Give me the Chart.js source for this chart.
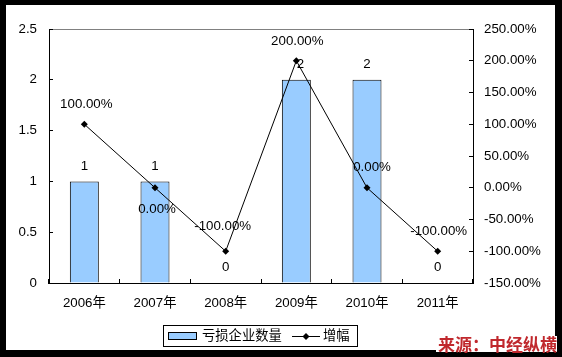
<!DOCTYPE html>
<html><head><meta charset="utf-8">
<script src="https://cdn.jsdelivr.net/npm/chart.js@4/dist/chart.umd.min.js"></script>
<style>html,body{margin:0;padding:0;background:#000;}canvas{display:block;}</style>
</head><body>
<canvas id="c" width="562" height="357"></canvas>
<script>
const categories = ['2006年','2007年','2008年','2009年','2010年','2011年'];
const lossCompanies = [1, 1, 0, 2, 2, 0];
const growthPct = [100, 0, -100, 200, 0, -100];
const seriesNames = ['亏损企业数量', '增幅'];
const leftTicks = [0, 0.5, 1, 1.5, 2, 2.5];
const rightTicks = [-150, -100, -50, 0, 50, 100, 150, 200, 250];
const sourceText = '来源：中经纵横';

const FAMILY = "'Liberation Sans', Arial, 'Noto Sans CJK SC', sans-serif";
const FONT_PX = 13.3;
const FONT = FONT_PX + 'px ' + FAMILY;

const framePlugin = {
  id: 'frame',
  beforeDraw(chart) {
    const ctx = chart.ctx;
    ctx.save();
    ctx.fillStyle = '#000';
    ctx.fillRect(0, 0, chart.width, chart.height);
    ctx.fillStyle = '#fff';
    ctx.fillRect(6, 5, 549, 345);
    const a = chart.chartArea;
    ctx.strokeStyle = '#808080';
    ctx.lineWidth = 1;
    ctx.beginPath();
    ctx.moveTo(a.left, Math.round(a.top) + 0.5);
    ctx.lineTo(a.right, Math.round(a.top) + 0.5);
    ctx.stroke();
    ctx.restore();
  },
  afterDraw(chart) {
    const ctx = chart.ctx;
    ctx.save();
    // legend
    ctx.strokeStyle = '#000';
    ctx.lineWidth = 1;
    ctx.fillStyle = '#fff';
    ctx.fillRect(163.5, 325.5, 194, 21);
    ctx.strokeRect(163.5, 325.5, 194, 21);
    const ds0 = chart.data.datasets[0], ds1 = chart.data.datasets[1];
    ctx.fillStyle = ds0.backgroundColor;
    ctx.fillRect(168.5, 332.5, 28, 7);
    ctx.strokeRect(168.5, 332.5, 28, 7);
    ctx.fillStyle = '#000';
    ctx.font = FONT;
    ctx.textAlign = 'left';
    ctx.textBaseline = 'middle';
    ctx.fillText(ds0.label, 202, 336.5);
    ctx.beginPath();
    ctx.moveTo(292, 336.5);
    ctx.lineTo(320, 336.5);
    ctx.stroke();
    ctx.beginPath();
    ctx.moveTo(306, 333); ctx.lineTo(309.5, 336.5); ctx.lineTo(306, 340); ctx.lineTo(302.5, 336.5); ctx.closePath();
    ctx.fill();
    ctx.fillText(ds1.label, 323, 336.5);
    // source watermark
    ctx.fillStyle = '#fff';
    ctx.fillRect(436, 336, 121, 16);
    ctx.font = 'bold 17px "Noto Sans CJK SC", sans-serif';
    ctx.fillStyle = '#c0282d';
    ctx.textBaseline = 'middle';
    ctx.fillText(sourceText, 438, 345);
    ctx.restore();
  }
};

const labelPlugin = {
  id: 'vlabels',
  afterDatasetsDraw(chart, args, opts) {
    const ctx = chart.ctx;
    ctx.save();
    ctx.font = FONT;
    ctx.fillStyle = '#000';
    ctx.textAlign = 'center';
    ctx.textBaseline = 'middle';
    const bm = chart.getDatasetMeta(0);
    bm.data.forEach((el, i) => {
      ctx.fillText(String(chart.data.datasets[0].data[i]), el.x + opts.barDx[i], el.y + opts.barDy);
    });
    const lm = chart.getDatasetMeta(1);
    lm.data.forEach((el, i) => {
      const v = chart.data.datasets[1].data[i];
      ctx.fillText(v.toFixed(2) + '%', el.x + opts.lineOff[i][0], el.y + opts.lineOff[i][1]);
    });
    ctx.restore();
  }
};

Chart.defaults.font.family = FAMILY;
Chart.defaults.font.size = FONT_PX;
Chart.defaults.color = '#000';

new Chart(document.getElementById('c'), {
  data: {
    labels: categories,
    datasets: [
      {
        type: 'bar', label: seriesNames[0], data: lossCompanies, yAxisID: 'y',
        backgroundColor: '#99CCFF', borderColor: '#000', borderWidth: 1,
        barPercentage: 0.41, categoryPercentage: 1, order: 2
      },
      {
        type: 'line', label: seriesNames[1], data: growthPct, yAxisID: 'y1',
        borderColor: '#000', borderWidth: 1, backgroundColor: '#000',
        pointStyle: 'rectRot', pointRadius: 3.5, pointBackgroundColor: '#000',
        pointBorderWidth: 0, tension: 0, order: 1
      }
    ]
  },
  options: {
    responsive: false,
    animation: false,
    devicePixelRatio: 1,
    layout: { padding: { top: 29, left: 0, right: 0, bottom: 0 } },
    plugins: {
      legend: { display: false },
      tooltip: { enabled: false },
      vlabels: {
        barDx: [0, 0, 0, 4, 0, 0],
        barDy: -15.5,
        lineOff: [[2, -20], [2, 22], [-3, -25], [1, -19], [5, -20], [1, -20]]
      }
    },
    scales: {
      x: {
        position: 'bottom',
        offset: true,
        grid: { display: true, drawOnChartArea: false, offset: true, tickLength: -4, color: '#000' },
        border: { display: true, color: '#000', width: 1 },
        ticks: { padding: 16, maxRotation: 0, autoSkip: false, color: '#000' },
        afterFit(s) { s.height = 74; }
      },
      y: {
        position: 'left',
        min: 0, max: 2.5,
        afterBuildTicks(s) { s.ticks = leftTicks.map(v => ({ value: v })); },
        grid: { display: true, drawOnChartArea: false, tickLength: -4, color: '#000' },
        border: { display: true, color: '#000', width: 1 },
        ticks: { padding: 16, color: '#000', callback: v => String(v) },
        afterFit(s) { s.width = 49; }
      },
      y1: {
        position: 'right',
        min: -150, max: 250,
        afterBuildTicks(s) { s.ticks = rightTicks.map(v => ({ value: v })); },
        grid: { display: true, drawOnChartArea: false, tickLength: -4, color: '#000' },
        border: { display: true, color: '#000', width: 1 },
        ticks: { padding: 15, color: '#000', callback: v => Number(v).toFixed(2) + '%' },
        afterFit(s) { s.width = 89; }
      }
    }
  },
  plugins: [framePlugin, labelPlugin]
});
</script>
</body></html>
